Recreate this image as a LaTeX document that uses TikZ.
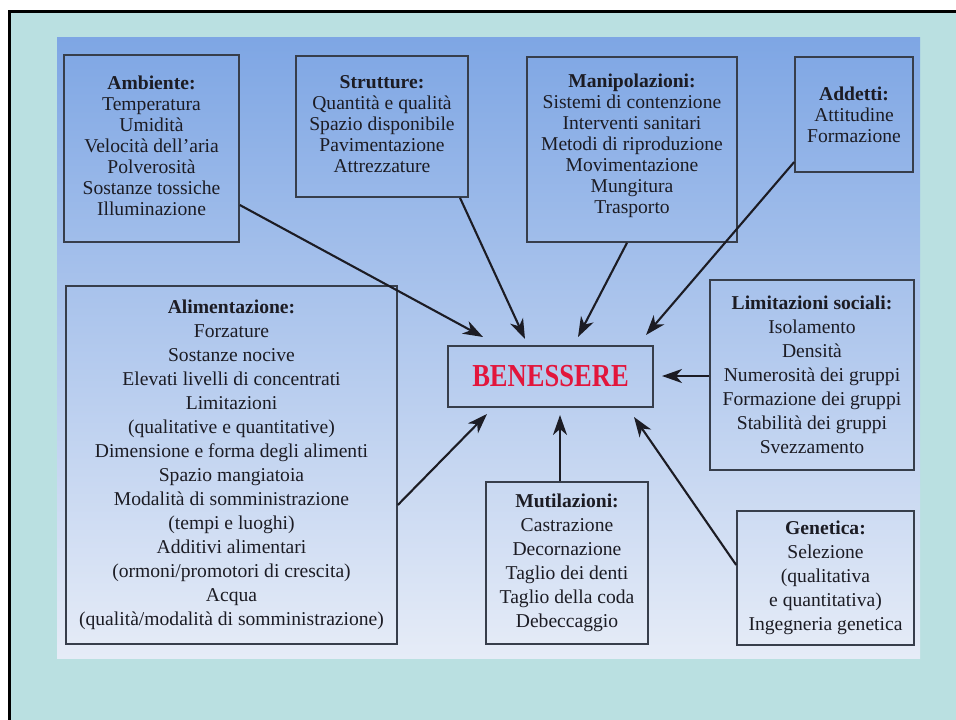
\documentclass[tikz,border=0pt]{standalone}
\usepackage{fontspec}
\setmainfont{Liberation Serif}
\usepackage{graphicx}
\usetikzlibrary{arrows.meta}
\definecolor{outerbg}{RGB}{186,224,225}
\definecolor{bluetop}{RGB}{126,166,228}
\definecolor{bluemid}{RGB}{168,197,237}
\definecolor{bluebot}{RGB}{230,236,247}
\definecolor{ink}{RGB}{28,28,36}
\definecolor{edgecol}{RGB}{55,62,75}
\definecolor{benred}{RGB}{226,22,60}
\begin{document}
\begin{tikzpicture}[x=1pt,y=-1pt,
  box/.style={draw=edgecol,line width=1.6pt,inner sep=0pt,align=center,text=ink,
    font=\fontsize{19.6}{21}\selectfont},
  loose/.style={font=\fontsize{19.6}{24}\selectfont},
  arr/.style={draw=ink,line width=2.1pt,-{Stealth[length=20pt,width=14pt,inset=6pt]}}]
\useasboundingbox (0,0) rectangle (956,720);
\fill[white] (0,0) rectangle (956,720);
\fill[outerbg] (9.3,11.3) rectangle (956,720);
\draw[black,line width=2.7pt] (9.3,720) -- (9.3,11.3) -- (956,11.3);
\shade[top color=bluetop,middle color=bluemid,bottom color=bluebot] (57,37) rectangle (920,658);

\node[box,text depth=6pt,minimum width=175pt,minimum height=187pt] (amb) at (151.5,148.5)
  {\textbf{Ambiente:}\\Temperatura\\Umidità\\Velocità dell’aria\\Polverosità\\Sostanze tossiche\\Illuminazione};
\node[box,text depth=5pt,minimum width=172pt,minimum height=141pt] (str) at (382,126.5)
  {\textbf{Strutture:}\\Quantità e qualità\\Spazio disponibile\\Pavimentazione\\Attrezzature};
\node[box,text depth=12pt,minimum width=210pt,minimum height=185pt] (man) at (632,149.5)
  {\textbf{Manipolazioni:}\\Sistemi di contenzione\\Interventi sanitari\\Metodi di riproduzione\\Movimentazione\\Mungitura\\Trasporto};
\node[box,minimum width=118pt,minimum height=115pt] (add) at (854,114.5)
  {\textbf{Addetti:}\\Attitudine\\Formazione};
\node[box,loose,minimum width=331pt,minimum height=358pt] (ali) at (231.5,465)
  {\textbf{Alimentazione:}\\Forzature\\Sostanze nocive\\Elevati livelli di concentrati\\Limitazioni\\(qualitative e quantitative)\\Dimensione e forma degli alimenti\\Spazio mangiatoia\\Modalità di somministrazione\\(tempi e luoghi)\\Additivi alimentari\\(ormoni/promotori di crescita)\\Acqua\\(qualità/modalità di somministrazione)};
\node[box,loose,minimum width=204pt,minimum height=190pt] (lim) at (812,375)
  {\textbf{Limitazioni sociali:}\\Isolamento\\Densità\\Numerosità dei gruppi\\Formazione dei gruppi\\Stabilità dei gruppi\\Svezzamento};
\node[box,loose,minimum width=162pt,minimum height=162pt] (mut) at (567,563)
  {\textbf{Mutilazioni:}\\Castrazione\\Decornazione\\Taglio dei denti\\Taglio della coda\\Debeccaggio};
\node[box,loose,minimum width=177pt,minimum height=134pt] (gen) at (825.5,578)
  {\textbf{Genetica:}\\Selezione\\(qualitativa\\e quantitativa)\\Ingegneria genetica};
\node[box,minimum width=205pt,minimum height=61pt,text=benred,
  font=\fontsize{32}{32}\selectfont\bfseries] (ben) at (550.5,376.5)
  {\scalebox{0.83}[1]{BENESSERE}};

\coordinate (s1) at (amb.east |- 0,205);
\coordinate (s2) at (460,0 |- str.south);
\coordinate (s3) at (627,0 |- man.south);
\coordinate (s4) at (add.west |- 0,162);
\coordinate (s5) at (lim.west |- 0,376);
\coordinate (s6) at (ali.east |- 0,505);
\coordinate (s7) at (560,0 |- mut.north);
\coordinate (s8) at (gen.west |- 0,565);
\coordinate (t1) at (483,337);
\coordinate (t2) at (525,339);
\coordinate (t3) at (578,337);
\coordinate (t4) at (646,335);
\coordinate (t5) at (662,376);
\coordinate (t6) at (487,414);
\coordinate (t7) at (560,415);
\coordinate (t8) at (634,417);
\foreach \i in {1,...,8} \draw[arr] (s\i) -- (t\i);
\end{tikzpicture}
\end{document}
